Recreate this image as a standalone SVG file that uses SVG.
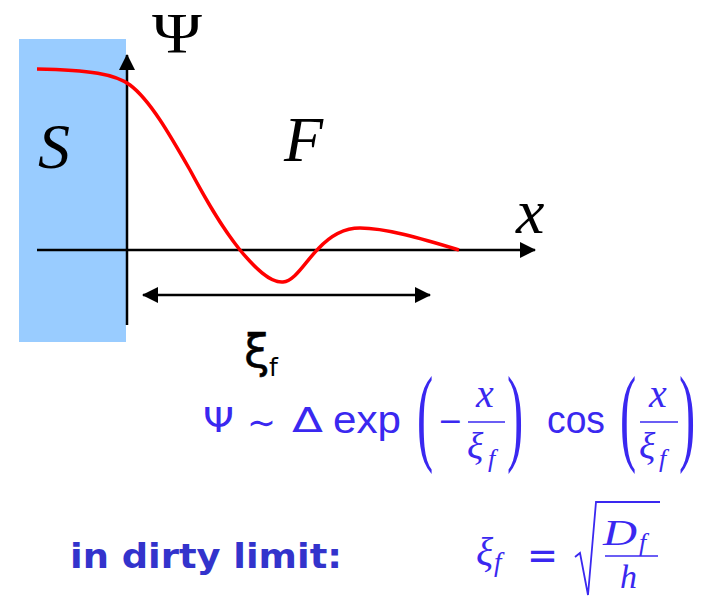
<svg xmlns="http://www.w3.org/2000/svg" width="713" height="597" viewBox="0 0 713 597">
<defs>
<style>
.ax{stroke:#000;stroke-width:2.5;fill:none}
.lbl{font-family:"Liberation Serif",serif;font-style:italic;fill:#000}
.ms{font-family:"Liberation Sans",sans-serif;fill:#3a28f0}
.mg{font-family:"DejaVu Sans",sans-serif;fill:#3a28f0}
.mp{font-family:"Liberation Serif",serif;fill:#3a28f0}
.mi{font-family:"Liberation Serif",serif;font-style:italic;fill:#3a28f0}
.fl{stroke:#3a28f0;stroke-width:1.6}
</style>
<marker id="ah" viewBox="0 0 16 16" refX="15" refY="8" markerWidth="16" markerHeight="16" markerUnits="userSpaceOnUse" orient="auto-start-reverse">
<path d="M0,0 L16,8 L0,16 Z" fill="#000"/>
</marker>
</defs>
<rect width="713" height="597" fill="#fff"/>
<g id="superconductor">
<rect x="19" y="39" width="107" height="303" fill="#99ccff"/>
<text class="lbl" x="38" y="168" font-size="64">S</text>
</g>
<g id="connectors">
<line class="ax" x1="127" y1="325" x2="127" y2="55" marker-end="url(#ah)"/>
<line class="ax" x1="37" y1="250" x2="535" y2="250" marker-end="url(#ah)"/>
<line class="ax" x1="143" y1="295" x2="430" y2="295" marker-start="url(#ah)" marker-end="url(#ah)"/>
</g>
<g id="curve">
<path d="M37,69 C90,70 115,74 130,85 C150,100 170,135 190,170 C205,198 220,225 240,250 C255,268 270,283 283,282 C295,281 305,262 318,249 C330,236 343,228 360,228 C385,228 420,238 459,250" fill="none" stroke="#ff0000" stroke-width="3.5"/>
</g>
<g id="labels">
<text x="152" y="53" font-family="Liberation Serif,serif" font-size="58" fill="#000" textLength="50" lengthAdjust="spacingAndGlyphs">Ψ</text>
<text class="lbl" x="284" y="161" font-size="64">F</text>
<text class="lbl" x="516" y="233" font-size="64">x</text>
<text x="244" y="367" font-family="DejaVu Sans,sans-serif" font-size="46" fill="#000" stroke="#000" stroke-width="0.5">ξ</text>
<text x="269" y="376" font-family="DejaVu Sans,sans-serif" font-size="25" fill="#000">f</text>
</g>
<g id="formula1">
<text class="mg" x="203" y="432" font-size="33" textLength="31" lengthAdjust="spacingAndGlyphs">Ψ</text>
<text class="mg" x="247" y="435" font-size="36" textLength="29" lengthAdjust="spacingAndGlyphs">∼</text>
<text class="mg" x="292" y="432" font-size="33" textLength="31" lengthAdjust="spacingAndGlyphs">Δ</text>
<text class="ms" x="333" y="433" font-size="38" textLength="68" lengthAdjust="spacingAndGlyphs">exp</text>
<text class="mp" transform="translate(417,451) scale(0.45,1)" font-size="108">(</text>
<text class="mg" x="438" y="432" font-size="32" textLength="25" lengthAdjust="spacingAndGlyphs">−</text>
<text class="mi" x="476" y="407" font-size="40">x</text>
<line class="fl" x1="468" y1="422" x2="505" y2="422"/>
<text class="mi" x="467" y="459" font-size="38">ξ</text>
<text class="mi" x="488" y="467" font-size="26">f</text>
<text class="mp" transform="translate(507,451) scale(0.45,1)" font-size="108">)</text>
<text class="ms" x="547" y="433" font-size="38" textLength="58" lengthAdjust="spacingAndGlyphs">cos</text>
<text class="mp" transform="translate(620,451) scale(0.45,1)" font-size="108">(</text>
<text class="mi" x="649" y="407" font-size="40">x</text>
<line class="fl" x1="640" y1="422" x2="678" y2="422"/>
<text class="mi" x="639" y="459" font-size="38">ξ</text>
<text class="mi" x="659" y="467" font-size="26">f</text>
<text class="mp" transform="translate(679,451) scale(0.45,1)" font-size="108">)</text>
</g>
<g id="dirty-limit">
<text x="70" y="568" font-family="DejaVu Sans,sans-serif" font-weight="bold" font-size="34" fill="#3333cc" textLength="272" lengthAdjust="spacingAndGlyphs">in dirty limit:</text>
</g>
<g id="formula2">
<text class="mi" x="476" y="565" font-size="40">ξ</text>
<text class="mi" x="494" y="571" font-size="27">f</text>
<text class="mg" x="527" y="569" font-size="40" textLength="31" lengthAdjust="spacingAndGlyphs">=</text>
<path d="M575,557 L580,553 L588,595 L596,502 L660,502" fill="none" stroke="#3a28f0" stroke-width="1.8"/>
<text class="mi" x="603" y="545" font-size="36" textLength="34" lengthAdjust="spacingAndGlyphs">D</text>
<text class="mi" x="639" y="551" font-size="26">f</text>
<line class="fl" x1="605" y1="556" x2="658" y2="556"/>
<text class="mi" x="620" y="588" font-size="34">h</text>
</g>
</svg>
